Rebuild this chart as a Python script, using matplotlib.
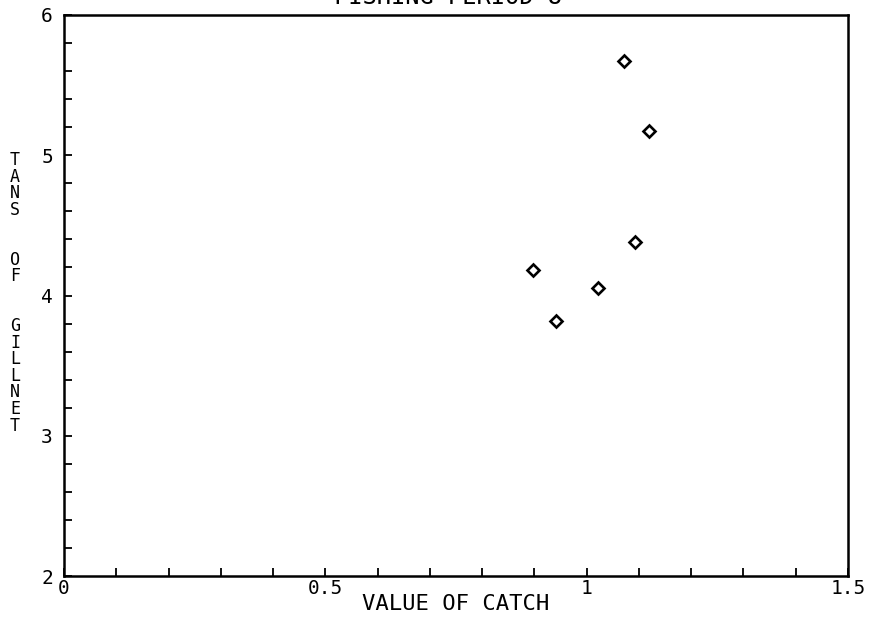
import matplotlib
matplotlib.use("Agg")
import matplotlib.pyplot as plt
from matplotlib.ticker import MultipleLocator, FixedFormatter, FixedLocator

# values
value_of_catch = [0.897, 0.941, 1.022, 1.071, 1.093, 1.119]
tans_of_gillnet = [4.18, 3.82, 4.05, 5.67, 4.38, 5.17]

title = "FISHING PERIOD 8"
xlabel = "VALUE OF CATCH"
ylabel = "TANS  OF  GILLNET"
x_ticks = [0, 0.5, 1, 1.5]
x_tick_labels = ["0", "0.5", "1", "1.5"]
y_ticks = [2, 3, 4, 5, 6]
y_tick_labels = ["2", "3", "4", "5", "6"]

W, H = 869, 618
plt.rcParams["font.family"] = "DejaVu Sans Mono"

fig = plt.figure(figsize=(W / 100, H / 100), dpi=100)
ax = fig.add_axes([64 / W, 1 - 576 / H, (848 - 64) / W, (576 - 15) / H])

ax.plot(value_of_catch, tans_of_gillnet, linestyle="none", marker="D",
        markersize=6.5, markerfacecolor="white", markeredgecolor="black",
        markeredgewidth=1.9)

ax.set_xlim(0, 1.5)
ax.set_ylim(2, 6)
for s in ax.spines.values():
    s.set_linewidth(1.8)

ax.xaxis.set_major_locator(FixedLocator(x_ticks))
ax.xaxis.set_major_formatter(FixedFormatter(x_tick_labels))
ax.xaxis.set_minor_locator(MultipleLocator(0.1))
ax.yaxis.set_major_locator(FixedLocator(y_ticks))
ax.yaxis.set_major_formatter(FixedFormatter(y_tick_labels))
ax.yaxis.set_minor_locator(MultipleLocator(0.2))
ax.tick_params(which="both", direction="in", length=6, width=1.3,
               labelsize=14, top=False, right=False)
ax.tick_params(axis="x", pad=2)
ax.tick_params(axis="y", pad=8)

ax.set_xlabel(xlabel, fontsize=16, labelpad=-3)

# stacked vertical y label
for i, ch in enumerate(ylabel):
    if ch != " ":
        fig.text(15 / W, 1 - (160 + i * 16.6) / H, ch, fontsize=12,
                 ha="center", va="center")

# title mostly cut off at the top edge
fig.text(448 / W, 1 - 4 / H, title, fontsize=17, ha="center", va="baseline")

fig.savefig("out.png", dpi=100)
